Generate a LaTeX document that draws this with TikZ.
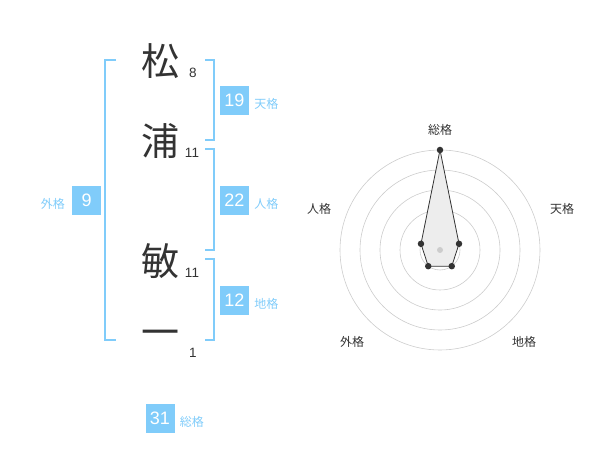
\documentclass[tikz,border=0pt]{standalone}
\usepackage{fontspec}
\setmainfont{Liberation Sans}
\newfontfamily\jpfont{Noto Sans CJK JP}
\usetikzlibrary{positioning}

\definecolor{kakublue}{HTML}{80CCFA}
\definecolor{inkgray}{HTML}{333333}
\definecolor{ringgray}{HTML}{CCCCCC}

\tikzset{
  kanji/.style={font=\jpfont\fontsize{38}{38}\selectfont, text=inkgray, inner sep=0pt},
  strokes/.style={font=\fontsize{13.5}{14}\selectfont, text=inkgray, inner sep=0pt},
  kakubox/.style={fill=kakublue, text=white, minimum size=29pt, inner sep=0pt, font=\fontsize{18}{18}\selectfont},
  kakulabel/.style={text=kakublue, font=\jpfont\fontsize{12}{12}\selectfont, inner sep=0pt},
  bracket/.style={draw=kakublue, line width=2pt},
  axislabel/.style={font=\jpfont\fontsize{12}{12}\selectfont, text=inkgray, inner sep=0pt},
  dot/.style={circle, fill=inkgray, inner sep=0pt, minimum size=6.5pt}
}

\begin{document}
\begin{tikzpicture}[x=1pt,y=-1pt]
\useasboundingbox (0,0) rectangle (600,470);

% name and stroke counts
\node[kanji] (c1) at (160,61) {松};
\node[kanji] (c2) at (160,141) {浦};
\node[kanji] (c3) at (160,261) {敏};
\node[kanji] (c4) at (160,338) {一};
\node[strokes] (n1) at (193,73) {8};
\node[strokes] (n2) at (192,153) {11};
\node[strokes] (n3) at (192,273) {11};
\node[strokes] (n4) at (193,353) {1};

% brackets
\draw[bracket] (116,60) -- (105,60) -- (105,340) -- (116,340);
\draw[bracket] (205,60) -- (214,60) -- (214,140) -- (205,140);
\draw[bracket] (205,149) -- (214,149) -- (214,250) -- (205,250);
\draw[bracket] (205,259) -- (214,259) -- (214,340) -- (205,340);

% kaku boxes
\node[kakubox] (ten) at (234.5,100.5) {19};
\node[kakulabel, right=5pt of ten, yshift=-3pt] (tenl) {天格};
\node[kakubox] (jin) at (234.5,200.5) {22};
\node[kakulabel, right=5pt of jin, yshift=-3pt] (jinl) {人格};
\node[kakubox] (chi) at (234.5,300.5) {12};
\node[kakulabel, right=5pt of chi, yshift=-3pt] (chil) {地格};
\node[kakubox] (gai) at (86.7,200.5) {9};
\node[kakulabel, left=7pt of gai, yshift=-3pt] (gail) {外格};
\node[kakubox] (sou) at (160,418.5) {31};
\node[kakulabel, right=5pt of sou, yshift=-3pt] (soul) {総格};

% radar chart
\begin{scope}[shift={(440,250)},x=1pt,y=1pt]
\foreach \r in {20,40,60,80,100}
  \draw[ringgray, line width=0.6pt] (0,0) circle (\r pt);
\coordinate (psou) at (90:100);
\coordinate (pten) at (18:20);
\coordinate (pchi) at (-54:20);
\coordinate (pgai) at (-126:20);
\coordinate (pjin) at (162:20);
\filldraw[fill=black!7, draw=inkgray, line width=0.8pt]
  (psou) -- (pten) -- (pchi) -- (pgai) -- (pjin) -- cycle;
\fill[ringgray] (0,0) circle (3pt);
\foreach \p in {psou,pten,pchi,pgai,pjin}
  \node[dot] at (\p) {};
\end{scope}
\node[axislabel] (asou) at (440,130) {総格};
\node[axislabel] (aten) at (562,209) {天格};
\node[axislabel] (ajin) at (319,209) {人格};
\node[axislabel] (agai) at (352,342) {外格};
\node[axislabel] (achi) at (524,342) {地格};
\end{tikzpicture}
\end{document}
